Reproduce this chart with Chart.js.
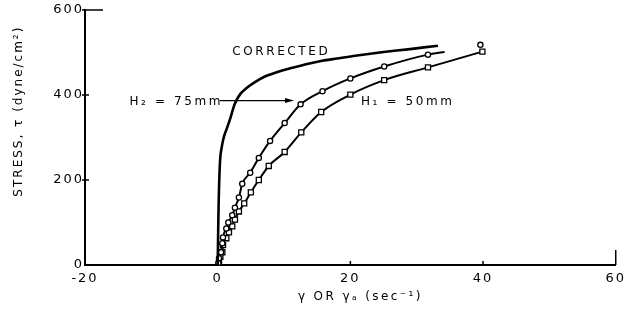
<!DOCTYPE html>
<html>
<head>
<meta charset="utf-8">
<script src="https://cdn.jsdelivr.net/npm/chart.js@4/dist/chart.umd.min.js"></script>
<style>
  html, body { margin: 0; padding: 0; background: #fff; }
  #wrap { width: 632px; height: 313px; }
</style>
</head>
<body>
<div id="wrap"><canvas id="c" width="632" height="313"></canvas></div>
<script>
// corrected curve (no markers)
const corrX = [0, 0.05, 0.1, 0.2, 0.4, 0.7, 1.0, 1.4, 1.9, 2.6, 3.4, 4.5, 5.8, 7.2, 9.0, 10.7, 13, 15.2, 18, 21, 25, 29, 33.2];
const corrY = [0, 50, 105, 180, 255, 285, 305, 322, 345, 380, 402, 418, 432, 444, 454, 462, 471, 479, 486, 493, 501, 508, 516];

// H2 = 75mm, circles (last entry is the line end, no marker)
const h2X = [0.1, 0.2, 0.5, 0.7, 0.8, 1.3, 1.6, 2.2, 2.6, 3.2, 3.7, 4.9, 6.2, 7.9, 10.1, 12.5, 15.8, 20, 25.1, 31.7, 34.2];
const h2Y = [5, 16, 30, 51, 65, 86, 100, 117, 135, 159, 191, 217, 252, 292, 334, 378, 409, 439, 467, 495, 501];
// lone circle at the far end
const h2LoneX = [39.6];
const h2LoneY = [518];

// H1 = 50mm, squares
const h1X = [0.2, 0.4, 0.7, 0.8, 1.3, 1.7, 2.2, 2.6, 3.2, 4.0, 5.0, 6.2, 7.7, 10.1, 12.6, 15.6, 20, 25.1, 31.7, 39.9];
const h1Y = [5, 19, 30, 47, 63, 77, 91, 107, 126, 145, 171, 200, 233, 266, 312, 360, 401, 435, 465, 502];

const xTicks = [-20, 0, 20, 40, 60];
const yTicks = [0, 200, 400, 600];

const FONT = '"DejaVu Sans", sans-serif';
const pts = (xs, ys) => xs.map((x, i) => ({ x, y: ys[i] }));

// text + arrow labels in data coordinates
const labels = [
  { text: 'CORRECTED', x: 2.2, y: 502 },
  { text: 'H\u2082 = 75mm', x: -13.3, y: 385 },
  { text: 'H\u2081 = 50mm', x: 21.6, y: 385 },
];
const arrow = { x0: 0.3, x1: 11.5, y: 387 };

const spacing = {
  id: 'spacing',
  beforeUpdate(chart) { chart.ctx.letterSpacing = '2px'; },
  beforeDraw(chart) { chart.ctx.letterSpacing = '2px'; },
};

const extras = {
  id: 'extras',
  afterDraw(chart) {
    const { ctx, chartArea: a, scales: { x, y } } = chart;
    ctx.save();
    ctx.strokeStyle = '#000';
    ctx.fillStyle = '#000';
    ctx.lineWidth = 1.5;

    // inward tick marks
    yTicks.slice(1).forEach(v => {
      const py = y.getPixelForValue(v);
      const len = v === 600 ? 18 : 4;
      ctx.beginPath(); ctx.moveTo(a.left - 3, py); ctx.lineTo(a.left + len, py); ctx.stroke();
    });
    xTicks.slice(2).forEach(v => {
      const px = x.getPixelForValue(v);
      const len = v === 60 ? 15 : 4;
      ctx.beginPath(); ctx.moveTo(px, a.bottom); ctx.lineTo(px, a.bottom - len); ctx.stroke();
    });

    // labels
    ctx.letterSpacing = '2.6px';
    ctx.font = '12px ' + FONT;
    ctx.textBaseline = 'middle';
    ctx.textAlign = 'left';
    labels.forEach(l => ctx.fillText(l.text, x.getPixelForValue(l.x), y.getPixelForValue(l.y)));

    // arrow
    const ay = y.getPixelForValue(arrow.y);
    const ax0 = x.getPixelForValue(arrow.x0), ax1 = x.getPixelForValue(arrow.x1);
    ctx.lineWidth = 1.2;
    ctx.beginPath(); ctx.moveTo(ax0, ay); ctx.lineTo(ax1 - 6, ay); ctx.stroke();
    ctx.beginPath(); ctx.moveTo(ax1, ay); ctx.lineTo(ax1 - 9, ay - 2.5); ctx.lineTo(ax1 - 9, ay + 2.5); ctx.closePath(); ctx.fill();

    // axis titles
    ctx.font = '12px ' + FONT;
    ctx.letterSpacing = '2.4px';
    ctx.textAlign = 'center';
    ctx.fillText('\u03b3 OR \u03b3\u2090 (sec\u207b\u00b9)', x.getPixelForValue(21.5), a.bottom + 32);
    ctx.translate(a.left - 66, y.getPixelForValue(362));
    ctx.rotate(-Math.PI / 2);
    ctx.letterSpacing = '2px';
    ctx.fillText('STRESS, \u03c4 (dyne/cm\u00b2)', 0, 0);
    ctx.restore();
  }
};

const lineStyle = {
  borderColor: '#000',
  backgroundColor: '#fff',
  borderWidth: 2,
  pointBorderColor: '#000',
  pointBackgroundColor: '#fff',
  pointBorderWidth: 1.3,
  cubicInterpolationMode: 'monotone',
};

new Chart(document.getElementById('c'), {
  type: 'line',
  data: {
    datasets: [
      { ...lineStyle, label: 'Corrected', data: pts(corrX, corrY), borderWidth: 2.6, pointRadius: 0, cubicInterpolationMode: 'default', tension: 0.3 },
      { ...lineStyle, label: 'H2 = 75mm', data: pts(h2X, h2Y), pointStyle: 'circle',
        pointRadius: h2X.map((_, i) => i === h2X.length - 1 ? 0 : 2.6) },
      { ...lineStyle, label: 'H2 end', data: pts(h2LoneX, h2LoneY), showLine: false, pointStyle: 'circle', pointRadius: 2.6 },
      { ...lineStyle, label: 'H1 = 50mm', data: pts(h1X, h1Y), pointStyle: 'rect', pointRadius: 3.6 },
    ],
  },
  options: {
    responsive: false,
    animation: false,
    layout: { padding: { top: 10, right: 13, left: 0, bottom: 0 } },
    plugins: { legend: { display: false }, tooltip: { enabled: false } },
    scales: {
      x: {
        type: 'linear', min: -20, max: 60,
        afterFit: s => { s.height = 48; },
        afterBuildTicks: s => { s.ticks = xTicks.map(v => ({ value: v })); },
        grid: { display: false, drawTicks: false },
        border: { display: true, color: '#000', width: 2 },
        ticks: { color: '#000', padding: 6, font: { family: FONT, size: 13 }, maxRotation: 0 },
      },
      y: {
        type: 'linear', min: 0, max: 600,
        afterFit: s => { s.width = 85; },
        afterBuildTicks: s => { s.ticks = yTicks.map(v => ({ value: v })); },
        grid: { display: false, drawTicks: false },
        border: { display: true, color: '#000', width: 2 },
        ticks: { color: '#000', padding: 1, font: { family: FONT, size: 13 } },
      },
    },
  },
  plugins: [spacing, extras],
});
</script>
</body>
</html>
